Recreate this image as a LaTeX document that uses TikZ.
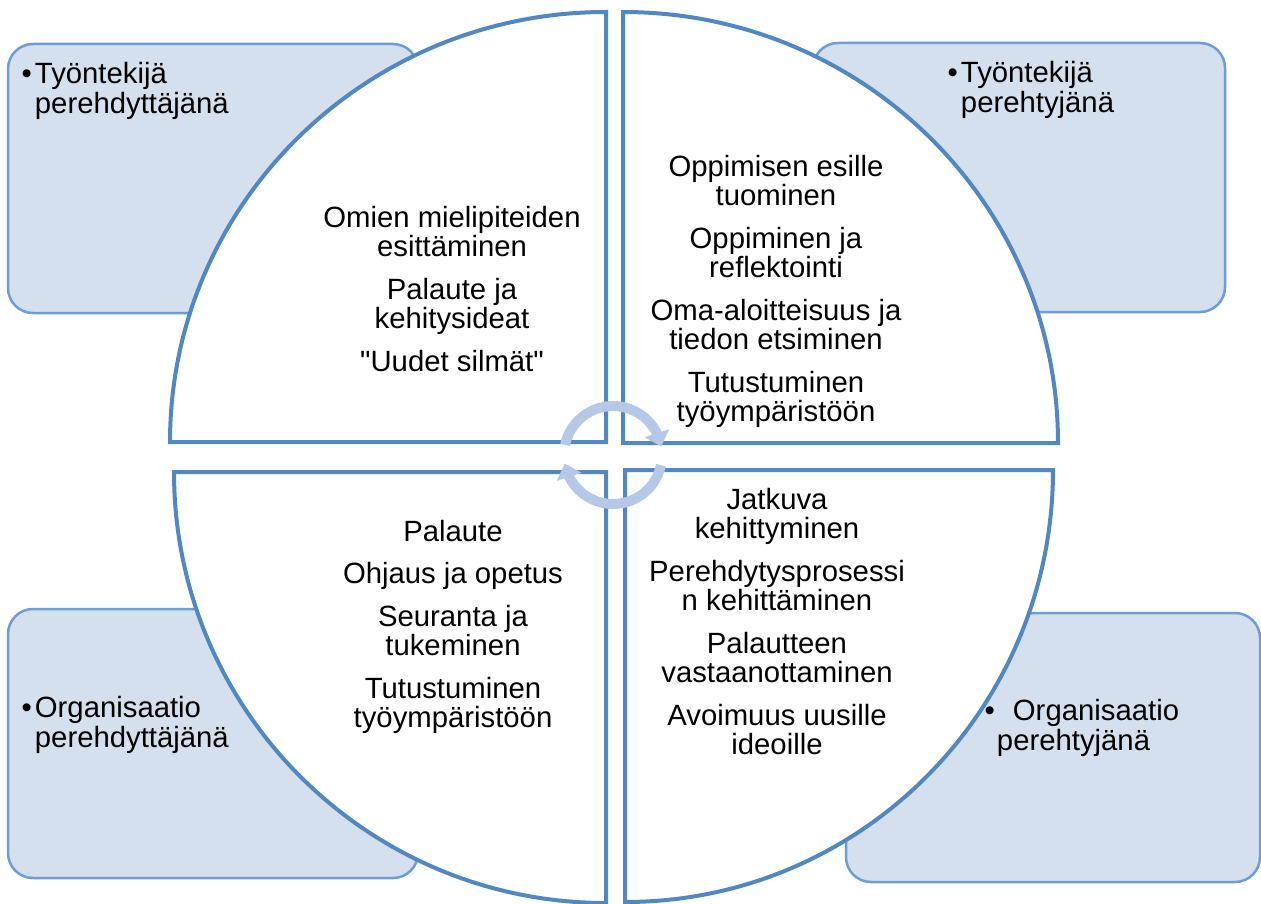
\documentclass[tikz,border=0pt]{standalone}
\usepackage{fontspec}
\setmainfont{Liberation Sans}
\usepackage{xcolor}
\usetikzlibrary{arrows.meta,bending,positioning}

\definecolor{quadLine}{RGB}{82,136,194}
\definecolor{roleFill}{RGB}{213,224,239}
\definecolor{roleLine}{RGB}{108,157,214}
\definecolor{cycleBlue}{RGB}{181,200,232}

\begin{document}
\begin{tikzpicture}[
    x=1pt, y=1pt,
    rolebox/.style={draw=roleLine, line width=2.5pt, fill=roleFill,
      rounded corners=25pt, minimum height=269pt, inner sep=0pt},
    quadrant/.style={draw=quadLine, line width=4pt, fill=white},
    itemtext/.style={anchor=north, align=center, inner sep=0pt,
      font=\fontsize{29.3pt}{29.5pt}\selectfont},
    roletext/.style={align=left, inner sep=0pt,
      font=\fontsize{29.3pt}{30pt}\selectfont},
    cyclearrow/.style={draw=cycleBlue, line width=10pt,
      -{Triangle[width=25pt, length=14pt]}}
  ]
  \useasboundingbox (0,0) rectangle (1261,-904);

  % role boxes, partly hidden behind the circle
  \node[rolebox, minimum width=410pt] (tlBox) at (213,-178.5) {};
  \node[rolebox, minimum width=412pt] (trBox) at (1019,-177.5) {};
  \node[rolebox, minimum width=410pt] (blBox) at (213,-743.5) {};
  \node[rolebox, minimum width=414pt] (brBox) at (1053,-747.5) {};

  % the four quarters of the circle
  \coordinate (ulCorner) at (606,-442);
  \coordinate (urCorner) at (623,-443);
  \coordinate (llCorner) at (606,-472);
  \coordinate (lrCorner) at (625,-470);
  \draw[quadrant] (ulCorner) -- ++(-436,0)
    arc[start angle=180, end angle=90, x radius=436, y radius=430] -- cycle;
  \draw[quadrant] (urCorner) -- ++(0,431)
    arc[start angle=90, end angle=0, x radius=435, y radius=431] -- cycle;
  \draw[quadrant] (llCorner) -- ++(-432,0)
    arc[start angle=180, end angle=270, x radius=432, y radius=431] -- cycle;
  \draw[quadrant] (lrCorner) -- ++(428,0)
    arc[start angle=0, end angle=-90, x radius=428, y radius=432] -- cycle;

  % role labels
  \node[roletext, below right=19pt and 28pt of tlBox.north west] (tlRole)
    {\llap{\textbullet\hspace{3pt}}Työntekijä\\perehdyttäjänä};
  \node[roletext, below right=19pt and 149pt of trBox.north west] (trRole)
    {\llap{\textbullet\hspace{3pt}}Työntekijä\\perehtyjänä};
  \node[roletext, below right=88pt and 28pt of blBox.north west] (blRole)
    {\llap{\textbullet\hspace{3pt}}Organisaatio\\perehdyttäjänä};
  \node[roletext, below right=87pt and 152pt of brBox.north west] (brRole)
    {\llap{\textbullet\hspace{2pt}}\hspace*{16pt}Organisaatio\\perehtyjänä};

  % items in the quarters
  \node[itemtext] (ulItems) at (452,-206)
    {Omien mielipiteiden\\esittäminen\\[13pt]Palaute ja\\kehitysideat\\[13pt]\textquotedbl Uudet silmät\textquotedbl};
  \node[itemtext] (urItems) at (776,-155)
    {Oppimisen esille\\tuominen\\[13pt]Oppiminen ja\\reflektointi\\[13pt]Oma-aloitteisuus ja\\tiedon etsiminen\\[13pt]Tutustuminen\\työympäristöön};
  \node[itemtext] (llItems) at (453,-520)
    {Palaute\\[13pt]Ohjaus ja opetus\\[13pt]Seuranta ja\\tukeminen\\[13pt]Tutustuminen\\työympäristöön};
  \node[itemtext] (lrItems) at (777,-488)
    {Jatkuva\\kehittyminen\\[13pt]Perehdytysprosessi\\n kehittäminen\\[13pt]Palautteen\\vastaanottaminen\\[13pt]Avoimuus uusille\\ideoille};

  % cycle arrows in the middle
  \coordinate (hub) at (613,-455);
  \draw[cyclearrow] ([shift={(168:49)}]hub) arc[start angle=168, end angle=10, radius=49];
  \draw[cyclearrow] ([shift={(-12:49)}]hub) arc[start angle=-12, end angle=-170, radius=49];
\end{tikzpicture}
\end{document}
